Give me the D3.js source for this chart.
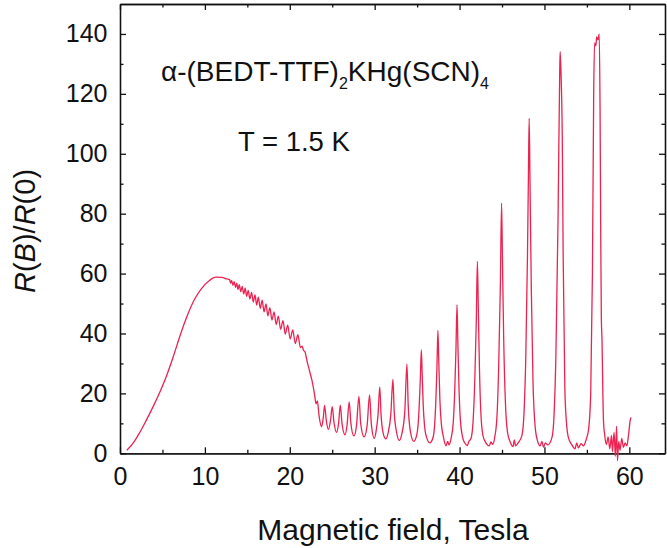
<!DOCTYPE html>
<html>
<head>
<meta charset="utf-8">
<script src="https://cdn.jsdelivr.net/npm/d3@7"></script>
<style>
body { margin: 0; background: #fff; }
svg { display: block; font-family: "Liberation Sans", Arial, sans-serif; }
</style>
</head>
<body>
<div id="chart"></div>
<script>
// [field in Tesla, R(B)/R(0)], piece by piece
const risePts = [[0.8,1.0],[1.5,3.2],[2.3,6.8],[3.0,10.5],[3.8,15],[4.7,20.5],[5.5,26],[6.3,32.5],
	[7.1,39.5],[8.0,46.5],[8.8,51.5],[9.6,55],[10.5,57.6],[11.3,58.8],[12.0,58.7],[12.6,58.2]];

const wigglePts = [[12.9,58.0],[13.03,56.8],[13.15,57.7],[13.3,56.1],[13.45,57.3],[13.6,55.4],
	[13.75,56.8],[13.9,54.7],[14.05,56.3],[14.22,54.0],[14.4,55.7],[14.57,53.2],[14.75,55.1],[14.92,52.4],
	[15.1,54.4],[15.3,51.5],[15.5,53.7],[15.7,50.5],[15.9,52.9],[16.1,49.5],[16.3,52.1],[16.52,48.4],
	[16.75,51.1],[16.97,47.2],[17.2,49.9],[17.42,45.9],[17.65,48.6],[17.9,44.5],[18.15,47.2],[18.4,43.0],
	[18.65,45.8],[18.92,41.4],[19.2,44.3],[19.47,39.8],[19.75,42.8],[20.05,38.2],[20.35,41.2],[20.65,36.6],
	[20.95,39.6],[21.25,35.3]];

const dropPts = [[21.45,35.8],[21.6,34.5],[21.8,33.8],[22.0,31.2],[22.3,27.8],[22.6,24.5],[22.9,20],
	[23.1,16.5],[23.25,17.5],[23.45,12.5],[23.75,8.9]];

const lowPeakPts = [[23.95,12],[24.1,16],[24.3,11],[24.55,8],[24.8,11],[25.0,15.6],[25.2,10.5],[25.5,7],
	[25.75,10],[25.95,16.1],[26.15,10],[26.5,6.2],[26.75,9.5],[27.0,17.2],[27.2,10],[27.55,5.8],[27.85,9],
	[28.15,19],[28.35,10],[28.75,5.5],[29.1,9],[29.4,19.5],[29.6,10],[29.95,5.0],[30.2,8],[30.4,13],
	[30.6,22.2],[30.75,13],[30.95,7.5],[31.3,4.8],[31.6,7],[31.9,13],[32.15,24.7],[32.3,14],[32.55,7.5],
	[32.9,4.3],[33.2,6.5],[33.55,14],[33.8,29.8],[33.95,16],[34.2,7.5],[34.6,4.0]];

const highPeakPts = [[34.9,5.5],[35.1,9],[35.25,16],[35.38,25],[35.5,34.5],[35.6,26],[35.72,16],[35.88,9],
	[36.1,5.5],[36.5,3.5],
	[36.85,5],[37.05,9],[37.2,17],[37.33,28],[37.45,41],[37.55,31],[37.68,18],[37.85,10],[38.1,5.5],
	[38.4,2.5],[38.6,4],[38.75,2.8],
	[39.0,5],[39.25,10],[39.42,20],[39.57,34],[39.7,49.6],[39.8,37],[39.93,22],[40.1,11],[40.35,5.5],
	[40.6,3.5],[40.9,2.6],[41.1,4],
	[41.35,5],[41.6,11],[41.8,25],[41.97,44],[42.1,64.1],[42.2,50],[42.33,30],[42.5,14],[42.75,6],
	[43.1,3.5],[43.5,2.5],[43.7,3.8],[43.9,3],
	[44.15,5.5],[44.4,12],[44.6,28],[44.8,55],[44.95,83.5],[45.05,65],[45.2,38],[45.4,17],[45.65,7],
	[46.0,3.5],[46.3,2.2],[46.45,4.5],[46.6,2.5],[46.9,3.5],
	[47.35,6],[47.6,14],[47.8,32],[48.0,66],[48.12,95],[48.2,111.8],[48.3,90],[48.45,55],[48.65,24],
	[48.9,9],[49.2,4],[49.5,2.5],[49.7,4],[49.9,2],[50.1,3.5],[50.4,2.8],
	[50.9,5.5],[51.15,14],[51.35,33],[51.6,78],[51.8,128],[51.85,134.1],[51.95,127],[52.1,105],[52.2,67],
	[52.4,22],[52.6,10],[52.8,5.5],[53.2,3],[53.6,1.5],[53.8,3.5],[54.0,1.8],[54.3,3.2],[54.6,2.5],[54.9,4.5]];

const lastPeakPts = [[55.2,8],[55.45,20],[55.65,60],[55.8,120],[55.9,137],[56.05,136],[56.15,139],
	[56.3,138],[56.45,140],[56.55,115],[56.62,78],[56.7,45],[56.78,38],[56.88,20],[56.95,11],[57.1,6]];

const tailPts = [[57.3,3],[57.5,5.5],[57.7,1.5],[57.9,6],[58.0,0.5],[58.2,7],[58.35,-1],[58.5,9],
	[58.6,-2.5],[58.75,4],[58.9,1],[59.1,5],[59.3,2],[59.5,3.5],[59.7,2.5],[59.9,6],[60.1,11],[60.2,12]];

const xTicks = [0, 10, 20, 30, 40, 50, 60];
const xMinor = [5, 15, 25, 35, 45, 55];
const yTicks = [0, 20, 40, 60, 80, 100, 120, 140];
const yMinor = [10, 30, 50, 70, 90, 110, 130];

const W = 667, H = 548;
const margins = { top: 4, right: 665, bottom: 453.3, left: 120 };

const x_scale = d3.scaleLinear().domain([0, 64.2]).range([margins.left, margins.right]);
const y_scale = d3.scaleLinear().domain([0, 150]).range([margins.bottom, margins.top]);

const svg = d3.select("#chart").append("svg")
	.attr("width", W)
	.attr("height", H);

svg.append("rect").attr("width", W).attr("height", H).attr("fill", "#fff");

const tickFont = g => g.attr("font-family", "'Liberation Sans', Arial, sans-serif")
	.attr("font-size", 25)
	.call(g => g.selectAll("path, line").attr("stroke", "#111").attr("stroke-width", 1.3))
	.call(g => g.selectAll("text").attr("fill", "#111"));

// bottom + top
svg.append("g")
	.attr("transform", `translate(0, ${margins.bottom})`)
	.call(d3.axisBottom(x_scale).tickValues(xTicks).tickSizeInner(-6).tickSizeOuter(0).tickPadding(13.5))
	.call(tickFont);
svg.append("g")
	.attr("transform", `translate(0, ${margins.bottom})`)
	.call(d3.axisBottom(x_scale).tickValues(xMinor).tickSizeInner(-3.5).tickSizeOuter(0).tickFormat(""))
	.call(tickFont);
svg.append("g")
	.attr("transform", `translate(0, ${margins.top})`)
	.call(d3.axisTop(x_scale).tickValues(xTicks).tickSizeInner(-6).tickSizeOuter(0).tickFormat(""))
	.call(tickFont);
svg.append("g")
	.attr("transform", `translate(0, ${margins.top})`)
	.call(d3.axisTop(x_scale).tickValues(xMinor).tickSizeInner(-3.5).tickSizeOuter(0).tickFormat(""))
	.call(tickFont);

// left + right
svg.append("g")
	.attr("transform", `translate(${margins.left}, 0)`)
	.call(d3.axisLeft(y_scale).tickValues(yTicks).tickSizeInner(-6).tickSizeOuter(0).tickPadding(12.5))
	.call(tickFont);
svg.append("g")
	.attr("transform", `translate(${margins.left}, 0)`)
	.call(d3.axisLeft(y_scale).tickValues(yMinor).tickSizeInner(-3.5).tickSizeOuter(0).tickFormat(""))
	.call(tickFont);
svg.append("g")
	.attr("transform", `translate(${margins.right}, 0)`)
	.call(d3.axisRight(y_scale).tickValues(yTicks).tickSizeInner(-6).tickSizeOuter(0).tickFormat(""))
	.call(tickFont);
svg.append("g")
	.attr("transform", `translate(${margins.right}, 0)`)
	.call(d3.axisRight(y_scale).tickValues(yMinor).tickSizeInner(-3.5).tickSizeOuter(0).tickFormat(""))
	.call(tickFont);

// curve
const allPts = [].concat(risePts, wigglePts, dropPts, lowPeakPts, highPeakPts, lastPeakPts, tailPts);
const line = d3.line()
	.x(d => x_scale(d[0]))
	.y(d => y_scale(d[1]))
	.curve(d3.curveMonotoneX);

svg.append("path")
	.datum(allPts)
	.attr("d", line)
	.attr("fill", "none")
	.attr("stroke", "#ec2250")
	.attr("stroke-width", 1.3)
	.attr("stroke-linejoin", "round");

// axis titles
svg.append("text")
	.attr("x", 393)
	.attr("y", 540)
	.attr("text-anchor", "middle")
	.attr("font-size", 30)
	.attr("fill", "#111")
	.text("Magnetic field, Tesla");

const yl = svg.append("text")
	.attr("transform", "translate(35, 231) rotate(-90)")
	.attr("text-anchor", "middle")
	.attr("font-size", 29)
	.attr("fill", "#111");
yl.append("tspan").attr("font-style", "italic").text("R");
yl.append("tspan").text("(");
yl.append("tspan").attr("font-style", "italic").text("B");
yl.append("tspan").text(")/");
yl.append("tspan").attr("font-style", "italic").text("R");
yl.append("tspan").text("(0)");

// annotations
const t1 = svg.append("text")
	.attr("x", 161)
	.attr("y", 80.7)
	.attr("font-size", 28)
	.attr("fill", "#111");
t1.append("tspan").text("α-(BEDT-TTF)");
t1.append("tspan").attr("font-size", 16).attr("dy", 8.5).text("2");
t1.append("tspan").attr("dy", -8.5).text("KHg(SCN)");
t1.append("tspan").attr("font-size", 16).attr("dy", 8.5).text("4");

svg.append("text")
	.attr("x", 238)
	.attr("y", 150.7)
	.attr("font-size", 27.5)
	.attr("fill", "#111")
	.text("T = 1.5 K");
</script>
</body>
</html>
